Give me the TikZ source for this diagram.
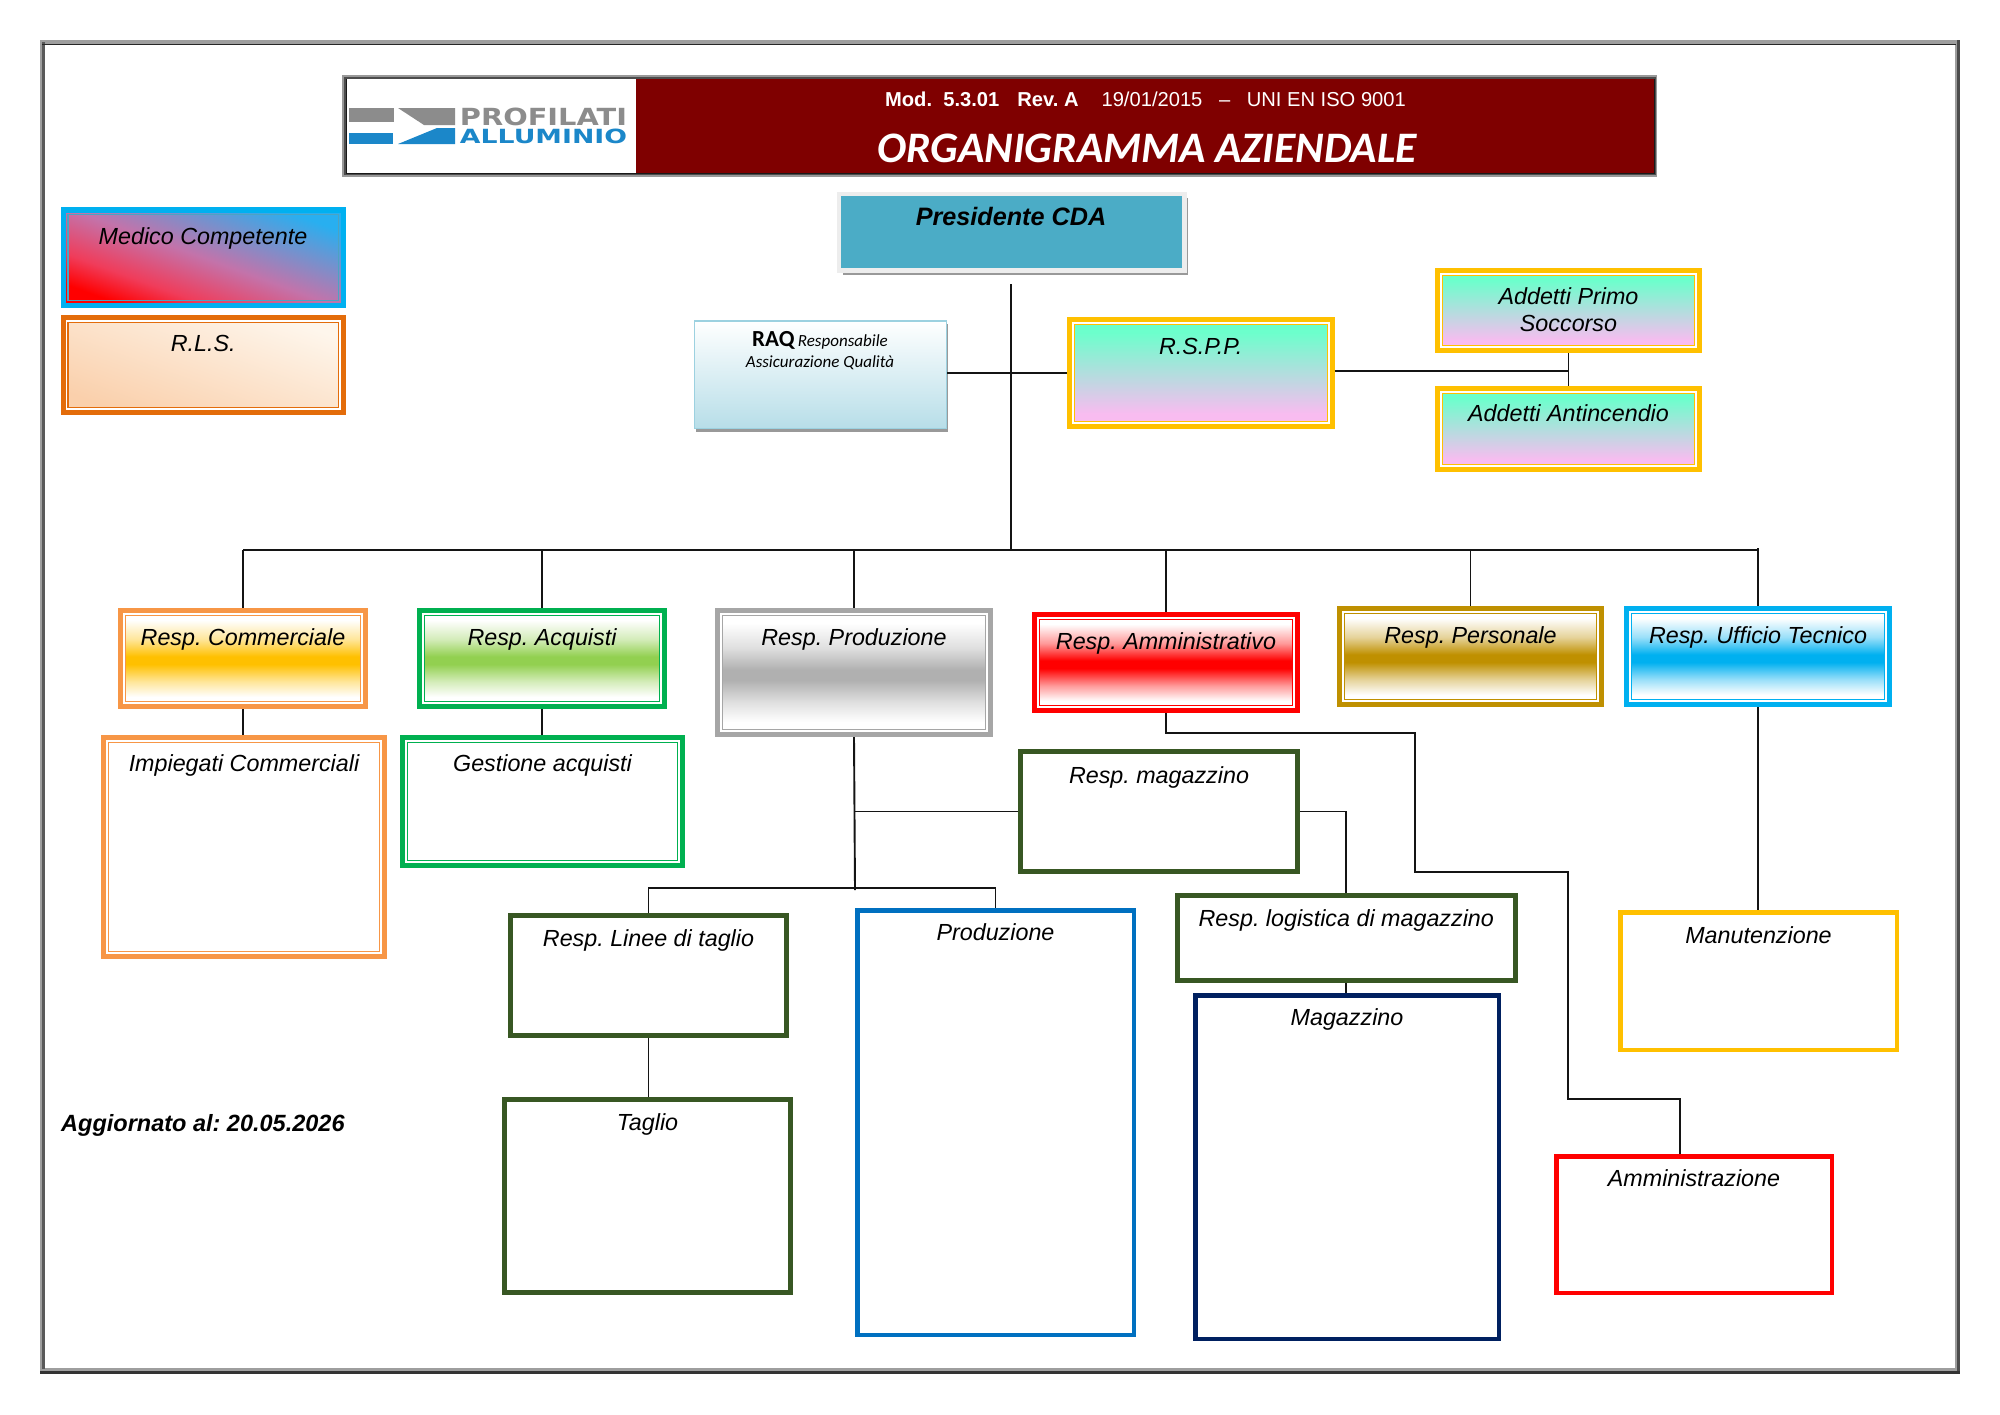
\documentclass[tikz,border=0pt]{standalone}
\usepackage{fontspec}
\usepackage{graphicx}
\setmainfont{Liberation Sans}
\newfontfamily\carlito{Carlito}
\newfontfamily\logofont{DejaVu Sans}
\usetikzlibrary{calc,shadows}
\frenchspacing
\definecolor{cOrange}{HTML}{F79646}
\definecolor{cAmber}{HTML}{FFC000}
\definecolor{cGreen}{HTML}{00B050}
\definecolor{cLime}{HTML}{92D050}
\definecolor{cGrey}{HTML}{A6A6A6}
\definecolor{cMidG}{HTML}{B0B0B0}
\definecolor{cRed}{HTML}{FF0000}
\definecolor{cGold}{HTML}{BF9000}
\definecolor{cSky}{HTML}{00B0F0}
\definecolor{cDark}{HTML}{385723}
\definecolor{cBlue}{HTML}{0070C0}
\definecolor{cNavy}{HTML}{002060}
\definecolor{cRust}{HTML}{E36C0A}
\definecolor{cMaroon}{HTML}{7F0000}
\definecolor{cMint}{HTML}{6CFFCC}
\definecolor{cPink}{HTML}{F8BCF0}
\definecolor{cTeal}{HTML}{4BACC6}
\definecolor{cLogoG}{HTML}{8C8C8C}
\definecolor{cLogoB}{HTML}{1B87C9}
\definecolor{cMedA}{HTML}{F03C5A}
\definecolor{cMedB}{HTML}{C373AA}
\definecolor{cMedC}{HTML}{28AFF0}
\newcommand\declband[2]{\pgfdeclareverticalshading{#1}{100bp}{color(0bp)=(white); color(30bp)=(white); color(38bp)=(#2!40!white); color(47bp)=(#2); color(51bp)=(#2); color(60bp)=(#2!40!white); color(70bp)=(white); color(100bp)=(white)}}
\declband{bandAmber}{cAmber}
\declband{bandLime}{cLime}
\declband{bandGrey}{cMidG}
\declband{bandRed}{cRed}
\declband{bandGold}{cGold}
\declband{bandSky}{cSky}
\pgfdeclareverticalshading{mintPink}{100bp}{color(0bp)=(cPink); color(31bp)=(cPink); color(69bp)=(cMint); color(100bp)=(cMint)}
\pgfdeclareverticalshading{medShade}{100bp}{color(0bp)=(cRed); color(25bp)=(cRed); color(35bp)=(cMedA); color(50bp)=(cMedB); color(75bp)=(cMedC); color(100bp)=(cMedC)}
\tikzset{
  box/.style={inner sep=0pt,minimum width=0pt},
  lbl/.style={font=\fontsize{23.3}{27}\selectfont\itshape,inner sep=0pt,text height=17pt,text depth=5pt,anchor=center,yshift=-2.5pt},
  conn/.style={line width=1.9pt,draw=black!92},
  connb/.style={line width=2.2pt,draw=black!92},
  frameT/.style={draw=#1,line width=5pt},
  plain/.style={draw=#1,line width=4.5pt,fill=white},
  plainb/.style={draw=#1,line width=5pt,fill=white},
  band/.style={shade,shading=#1},
}
% #1 name, #2..#5 outer extents, #6 style, #7 text y, #8 text
\newcommand\orgbox[8]{%
  \pgfmathsetmacro\bcx{(#2+#4)/2}\pgfmathsetmacro\bcy{(#3+#5)/2}%
  \pgfmathsetmacro\bw{#4-#2}\pgfmathsetmacro\bh{#5-#3}%
  \node[box,#6,minimum width={\bw pt-\pgflinewidth},minimum height={\bh pt-\pgflinewidth}] (#1) at (\bcx,\bcy) {};
  \if\relax\detokenize{#8}\relax\else
  \node[lbl] (#1-t) at (\bcx,#7) {#8};\fi
}
% same with a thick-thin frame
\newcommand\dblbox[9]{%
  \orgbox{#1}{#2}{#3}{#4}{#5}{frameT=#9,#6}{#7}{}%
  \draw[white,line width=1.8pt] ($(#1.north west)+(5.9,5.9)$) rectangle ($(#1.south east)+(-5.9,-5.9)$);
  \draw[#9,line width=1.2pt] ($(#1.north west)+(7.4,7.4)$) rectangle ($(#1.south east)+(-7.4,-7.4)$);
  \if\relax\detokenize{#8}\relax\else
  \node[lbl] (#1-t) at (\bcx,#7) {#8};\fi
}
\begin{document}
\begin{tikzpicture}[x=1pt,y=-1pt]
\useasboundingbox (0,0) rectangle (2000,1414);
\fill[white] (0,0) rectangle (2000,1414);
% page frame
\draw[draw=black!38,line width=5pt] (42.5,42.5) rectangle (1957.5,1370.5);
\draw[draw=black!65,line width=3pt] (43.5,42) -- (43.5,1369);
\draw[draw=black!85,line width=1.5pt] (42,44.5) -- (1956,44.5);
\draw[draw=black!70,line width=3pt] (1958.5,40) -- (1958.5,1373);
\draw[draw=black!80,line width=3pt] (40,1372) -- (1960,1372);
% header
\fill[black!40] (342,75) rectangle (1657,177);
\fill[black!70] (344,77) rectangle (1656,175);
\fill[black!90] (346,78.5) rectangle (1655,174);
\fill[white] (347,79) rectangle (636,173);
\fill[cMaroon] (636,79) rectangle (1654,173);
\fill[cLogoG] (349,108) rectangle (394,122);
\fill[cLogoB] (349,133) rectangle (393,144);
\fill[cLogoG] (398,108) -- (455,108) -- (455,125) -- (424,125) -- cycle;
\fill[cLogoB] (398,144) -- (437,128) -- (455,128) -- (455,144) -- cycle;
\node[inner sep=0pt,anchor=center,text=cLogoG] (logoa) at (543.5,117) {\resizebox{167pt}{17.5pt}{\logofont\bfseries PROFILATI}};
\node[inner sep=0pt,anchor=center,text=cLogoB] (logob) at (543.5,136.5) {\resizebox{167pt}{14.5pt}{\logofont\bfseries ALLUMINIO}};
\node[inner sep=0pt,text=white,anchor=center,font=\fontsize{20.15}{24}\selectfont] (modt) at (1145.5,99)
  {\textbf{Mod.\ \ 5.3.01}\hspace{18pt}\textbf{Rev.\ A}\hspace{23pt}19/01/2015\hspace{16.6pt}–\hspace{16.6pt}UNI EN ISO 9001};
\node[inner sep=0pt,text=white,anchor=center,font=\fontsize{43.5}{50}\selectfont\carlito\bfseries\itshape] (title) at (1147,148) {ORGANIGRAMMA AZIENDALE};
% top boxes
\orgbox{med}{60.5}{207}{346}{308}{draw=cSky,line width=5.5pt,shade,shading=medShade,shading angle=-20}{236}{}
\draw[cSky!70!black!70!white,line width=1.2pt] ($(med.north west)+(7.4,7.4)$) rectangle ($(med.south east)+(-7.4,-7.4)$);
\node[lbl] (med-t) at (203,236) {Medico Competente};
\dblbox{rls}{60.5}{315}{346}{415}{bottom color={rgb,255:red,250;green,208;blue,172},top color={rgb,255:red,254;green,246;blue,236},shading angle=-20}{343}{R.L.S.}{cRust}
\orgbox{pres}{836.5}{191.5}{1186.5}{272.5}{draw=black!7,line width=4.5pt,fill=cTeal,drop shadow={shadow xshift=4pt,shadow yshift=-4.5pt,opacity=1,fill=black!40}}{217}{}
\node[lbl,font=\fontsize{25.2}{29}\selectfont\bfseries\itshape] (pres-t) at (1011,217) {Presidente CDA};
\orgbox{raq}{693.5}{320}{947}{429}{draw=cTeal!55,line width=1.5pt,top color=white,bottom color=cTeal!40,drop shadow={shadow xshift=1.5pt,shadow yshift=-3.5pt,opacity=1,fill=black!40}}{340}{}
\node[inner sep=0pt,anchor=center,align=center,text height=15pt,text depth=4pt] (raq-a) at (820,341) {{\carlito\bfseries\fontsize{23}{25}\selectfont RAQ}\,\,{\carlito\itshape\fontsize{17}{20}\selectfont Responsabile}};
\node[inner sep=0pt,anchor=center,text height=12pt,text depth=4pt,font=\fontsize{17}{20}\selectfont\carlito\itshape] (raq-b) at (820,363.5) {Assicurazione Qualità};
\dblbox{rspp}{1067}{317}{1334.5}{429}{band=mintPink}{346}{R.S.P.P.}{cAmber}
\dblbox{primo}{1435}{268}{1702}{353}{band=mintPink}{296}{}{cAmber}
\node[lbl] (primo-a) at (1568.5,296) {Addetti Primo};
\node[lbl] (primo-b) at (1568.5,323) {Soccorso};
\dblbox{anti}{1435}{386}{1702}{472}{band=mintPink}{413}{Addetti Antincendio}{cAmber}
% second row
\dblbox{comm}{118}{608}{368}{709}{band=bandAmber}{637}{Resp. Commerciale}{cOrange}
\dblbox{acq}{417}{608}{667}{709}{band=bandLime}{637}{Resp. Acquisti}{cGreen}
\dblbox{rprod}{715}{608}{993}{737}{band=bandGrey}{637}{Resp. Produzione}{cGrey}
\dblbox{ramm}{1032}{612}{1300}{713}{band=bandRed}{641}{Resp. Amministrativo}{cRed}
\dblbox{pers}{1337}{606}{1604}{707}{band=bandGold}{635}{Resp. Personale}{cGold}
\dblbox{uff}{1624}{606}{1892}{707}{band=bandSky}{635}{Resp. Ufficio Tecnico}{cSky}
% third row
\dblbox{imp}{101}{735}{387}{959}{fill=white}{763}{Impiegati Commerciali}{cOrange}
\dblbox{ges}{400}{735}{685}{868}{fill=white}{763}{Gestione acquisti}{cGreen}
\orgbox{rmag}{1018}{749}{1300}{874}{plainb=cDark}{775}{Resp. magazzino}
\orgbox{rlog}{1174.5}{893}{1518}{983}{plainb=cDark}{918}{Resp. logistica di magazzino}
\orgbox{rlin}{508}{913}{789}{1038}{plainb=cDark}{938}{Resp. Linee di taglio}
\orgbox{prodz}{855}{908}{1136}{1337}{plain=cBlue}{932}{Produzione}
\orgbox{tag}{502}{1097}{793}{1295}{plainb=cDark}{1122}{Taglio}
\orgbox{mag}{1193}{993}{1501}{1341}{plain=cNavy}{1017}{Magazzino}
\orgbox{man}{1618}{910}{1899}{1052}{plain=cAmber}{935}{Manutenzione}
\orgbox{amz}{1554}{1154}{1834}{1295}{plain=cRed}{1178}{Amministrazione}
\node[lbl,font=\fontsize{23.5}{27}\selectfont\bfseries\itshape,anchor=west] (agg) at (61,1123) {Aggiornato al: 20.05.2026};
% connectors
\coordinate (ttop) at (1011,284);
\coordinate (bus) at (1011,550);
\coordinate (brk) at (855,888);
\coordinate (pend) at (855,890);
\coordinate (a1) at (1415,733);
\coordinate (a2) at (1415,872);
\coordinate (a3) at (1568,872);
\coordinate (a4) at (1568,1099);
\coordinate (a5) at (1680,1099);
\draw[conn] (ttop) -- (bus);
\draw[connb] (bus -| comm.north) -- (bus -| uff.north);
\foreach \n in {comm,acq,rprod,ramm,pers} \draw[conn] (bus -| \n.north) -- (\n.north);
\draw[conn] ($(bus -| uff.north)+(0,-2)$) -- (uff.north);
\draw[conn] (comm.south) -- (comm.south |- imp.north);
\draw[conn] (acq.south) -- (acq.south |- ges.north);
\draw[connb] (raq.east |- rspp.west) -- (rspp.west);
\draw[connb] ($(rspp.east)+(0,-2)$) -- ($(rspp.east -| primo.south)+(0,-2)$);
\draw[conn] (primo.south) -- (anti.north);
\draw[conn] (rprod.south) -- (pend);
\draw[conn] (rprod.south |- rmag.west) -- (rmag.west);
\draw[conn] (rmag.east) -| (rlog.north);
\draw[conn] (rlin.north) |- (brk) -| (prodz.north);
\draw[conn] (rlin.south) -- (rlin.south |- tag.north);
\draw[conn] (rlog.south) -- (rlog.south |- mag.north);
\draw[conn] (uff.south) -- (uff.south |- man.north);
\draw[conn] (ramm.south) |- (a1) -- (a2) -- (a3) -- (a4) -- (a5) -- (a5 |- amz.north);
\end{tikzpicture}
\end{document}
